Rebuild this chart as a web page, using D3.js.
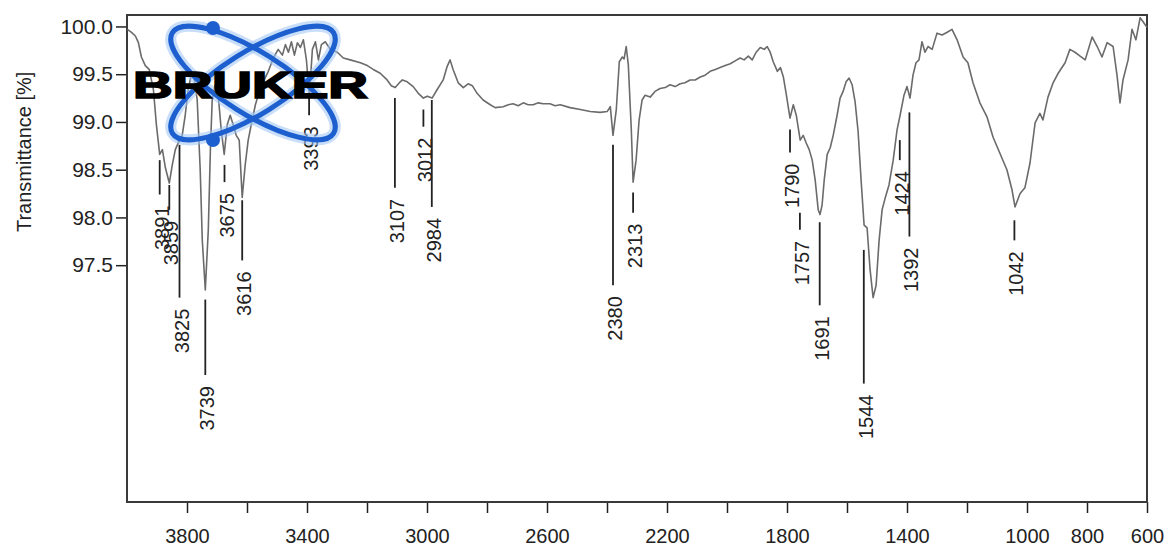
<!DOCTYPE html>
<html><head><meta charset="utf-8">
<script src="https://cdn.jsdelivr.net/npm/d3@7"></script>
<style>
html,body{margin:0;padding:0;background:#fff;}
svg{display:block;}
text{font-family:"Liberation Sans",Arial,sans-serif;}
</style></head><body>
<svg id="chart" width="1168" height="547"></svg>
<script>
// ---- data ----
const wavenumber = [
3999,3986,3972,3962,3952,3939,3926,3912,3902,3891,
3882,3872,3859,3849,3839,3825,3816,3806,3796,3786,
3776,3766,3756,3749,3739,3729,3722,3716,3706,3696,
3686,3676,3666,3656,3646,3636,3626,3616,3606,3596,
3586,3572,3559,3546,3529,3512,3496,3482,3472,3462,
3452,3442,3432,3422,3412,3402,3392,3382,3372,3362,
3352,3339,3322,3299,3279,3256,3222,3199,3179,3156,
3133,3119,3106,3089,3082,3066,3046,3029,3012,2999,
2983,2966,2946,2933,2923,2913,2896,2879,2863,2849,
2833,2813,2789,2773,2746,2729,2713,2696,2679,2663,
2646,2629,2613,2590,2573,2556,2523,2489,2456,2423,
2399,2389,2380,2369,2359,2349,2343,2336,2329,2319,
2313,2303,2293,2283,2273,2256,2240,2223,2206,2190,
2173,2156,2140,2123,2106,2089,2073,2056,2039,2023,
2006,1989,1973,1956,1943,1929,1916,1903,1889,1876,
1866,1856,1846,1832,1822,1812,1802,1790,1779,1769,
1756,1746,1736,1726,1716,1706,1696,1690,1683,1676,
1666,1656,1646,1633,1623,1613,1603,1593,1583,1573,
1563,1553,1543,1533,1523,1513,1503,1493,1483,1473,
1460,1446,1433,1423,1410,1400,1390,1380,1370,1360,
1350,1340,1330,1316,1300,1283,1266,1250,1233,1213,
1197,1180,1157,1133,1113,1090,1067,1050,1040,1023,
1007,990,973,957,947,930,913,896,873,857,
840,823,806,783,766,750,733,713,700,690,
680,663,650,637,623,613,600];
const transmittance = [
99.97,99.94,99.90,99.83,99.68,99.59,99.55,99.34,98.97,98.66,
98.71,98.52,98.36,98.55,98.71,98.81,98.86,99.07,99.34,99.49,
99.46,99.23,98.50,97.76,97.24,97.87,98.71,99.23,99.39,99.28,
98.92,98.66,98.97,99.07,98.97,98.86,98.81,98.21,98.55,98.81,
98.97,99.18,99.32,99.42,99.53,99.67,99.76,99.70,99.81,99.73,
99.84,99.70,99.83,99.78,99.86,99.65,99.28,99.76,99.84,99.65,
99.81,99.84,99.76,99.73,99.67,99.65,99.62,99.59,99.55,99.51,
99.44,99.38,99.36,99.42,99.44,99.42,99.37,99.30,99.25,99.27,
99.25,99.34,99.44,99.58,99.65,99.55,99.41,99.36,99.40,99.38,
99.30,99.23,99.18,99.15,99.16,99.18,99.19,99.17,99.20,99.18,
99.18,99.20,99.19,99.19,99.17,99.18,99.15,99.13,99.11,99.10,
99.11,99.16,98.86,99.13,99.63,99.68,99.66,99.79,99.60,98.92,
98.37,98.60,99.02,99.23,99.28,99.26,99.32,99.35,99.36,99.39,
99.37,99.40,99.41,99.44,99.44,99.47,99.49,99.53,99.55,99.57,
99.59,99.61,99.64,99.67,99.65,99.69,99.65,99.73,99.78,99.76,
99.79,99.73,99.63,99.53,99.57,99.47,99.28,99.04,99.18,99.07,
98.81,98.86,98.78,98.71,98.60,98.39,98.08,98.03,98.13,98.39,
98.66,98.73,98.86,99.07,99.25,99.32,99.42,99.46,99.39,99.21,
98.90,98.39,97.92,97.89,97.45,97.16,97.29,97.76,98.08,98.20,
98.34,98.60,98.92,99.07,99.28,99.37,99.25,99.49,99.62,99.65,
99.84,99.73,99.79,99.76,99.93,99.91,99.94,99.97,99.86,99.68,
99.62,99.41,99.20,99.05,98.84,98.67,98.50,98.29,98.11,98.25,
98.31,98.57,98.99,99.09,99.02,99.26,99.41,99.51,99.62,99.76,
99.73,99.69,99.65,99.89,99.79,99.68,99.83,99.79,99.49,99.20,
99.44,99.65,99.97,99.86,100.09,100.05,99.99];

const peakWavenumber = [3891,3859,3825,3739,3675,3616,3393,3107,3012,2984,2380,2313,1790,1757,1691,1544,1424,1392,1042];
const peakLineTop    = [98.60,98.34,98.76,97.14,98.55,98.18,99.25,99.25,99.13,99.23,98.76,98.26,98.92,98.05,97.95,97.66,98.81,99.10,97.97];
const peakLineBottom = [98.24,98.08,97.16,96.35,98.37,97.55,99.07,98.31,98.95,98.11,97.29,98.05,98.68,97.87,97.08,96.26,98.60,97.80,97.76];

const xTickValues = [3800,3600,3400,3200,3000,2800,2600,2400,2200,2000,1800,1600,1400,1200,1000,800,600];
const xTickLabels = [3800,3400,3000,2600,2200,1800,1400,1000,800,600];
const yTickValues = [97.5,98.0,98.5,99.0,99.5,100.0];
const yTitle = "Transmittance [%]";
const logoText = "BRUKER";

// ---- layout ----
const L = 127, R = 1147, T = 15, B = 502;
const x = d3.scaleLinear().domain([4000, 600]).range([L, R]);
const y = d3.scaleLinear().domain([95.02, 100.12]).range([B, T]);
const svg = d3.select("#chart");
const ink = "#222";

// axes
const gx = svg.append("g").attr("transform", `translate(0,${B})`)
  .call(d3.axisBottom(x).tickValues(xTickValues).tickSize(11).tickPadding(16)
    .tickFormat(d => xTickLabels.includes(d) ? String(d) : ""));
gx.attr("font-size", 20).attr("font-family", '"Liberation Sans",Arial,sans-serif').attr("color", ink);
gx.select(".domain").remove();
gx.selectAll(".tick line").attr("stroke-width", 1.5);

const gy = svg.append("g").attr("transform", `translate(${L},0)`)
  .call(d3.axisLeft(y).tickValues(yTickValues).tickSize(11).tickPadding(3).tickFormat(d3.format(".1f")));
gy.attr("font-size", 21).attr("font-family", '"Liberation Sans",Arial,sans-serif').attr("color", ink);
gy.select(".domain").remove();
gy.selectAll(".tick line").attr("stroke-width", 1.5);

svg.append("text")
  .attr("transform", `translate(24,${(y(97.5) + y(100)) / 2 + 6}) rotate(-90)`)
  .attr("text-anchor", "middle").attr("dy", "0.35em")
  .attr("font-size", 20).attr("fill", ink).text(yTitle);

// frame
svg.append("rect").attr("x", L).attr("y", T).attr("width", R - L).attr("height", B - T)
  .attr("fill", "none").attr("stroke", "#3a3a3a").attr("stroke-width", 2);

// spectrum
const pts = d3.zip(wavenumber, transmittance);
svg.append("path").datum(pts)
  .attr("d", d3.line().x(d => x(d[0])).y(d => y(d[1])))
  .attr("fill", "none").attr("stroke", "#6b6b6b").attr("stroke-width", 1.6)
  .attr("stroke-linejoin", "round");

// peak labels
const peaks = peakWavenumber.map((w, i) => ({ w, top: peakLineTop[i], bottom: peakLineBottom[i] }));
const pg = svg.append("g");
pg.selectAll("line").data(peaks).join("line")
  .attr("x1", d => x(d.w)).attr("x2", d => x(d.w))
  .attr("y1", d => y(d.top)).attr("y2", d => y(d.bottom))
  .attr("stroke", "#222").attr("stroke-width", 1.8);
pg.selectAll("text").data(peaks).join("text")
  .attr("transform", d => `translate(${x(d.w) + 2},${y(d.bottom) + 11}) rotate(-90)`)
  .attr("text-anchor", "end").attr("dy", "0.35em")
  .attr("font-size", 20).attr("fill", ink).text(d => d.w);

// Bruker logo (decoration)
const logo = svg.append("g").attr("transform", "translate(253,83)");
[32, -32].forEach(a => logo.append("ellipse").attr("rx", 95).attr("ry", 31)
  .attr("transform", `rotate(${a})`).attr("fill", "none")
  .attr("stroke", "#9cc2f2").attr("stroke-width", 11).attr("opacity", 0.55));
[32, -32].forEach(a => logo.append("ellipse").attr("rx", 95).attr("ry", 31)
  .attr("transform", `rotate(${a})`).attr("fill", "none")
  .attr("stroke", "#1d5fcf").attr("stroke-width", 5));
[[-40, -55], [-40, 57]].forEach(p => logo.append("circle")
  .attr("cx", p[0]).attr("cy", p[1]).attr("r", 7).attr("fill", "#1d5fcf"));
logo.append("text").attr("x", -120).attr("y", 15)
  .attr("font-family", '"DejaVu Sans",sans-serif').attr("font-weight", "bold")
  .attr("font-size", 36).attr("textLength", 235).attr("lengthAdjust", "spacingAndGlyphs")
  .attr("fill", "#000").attr("stroke", "#000").attr("stroke-width", 1.6)
  .text(logoText);
</script>
</body></html>
